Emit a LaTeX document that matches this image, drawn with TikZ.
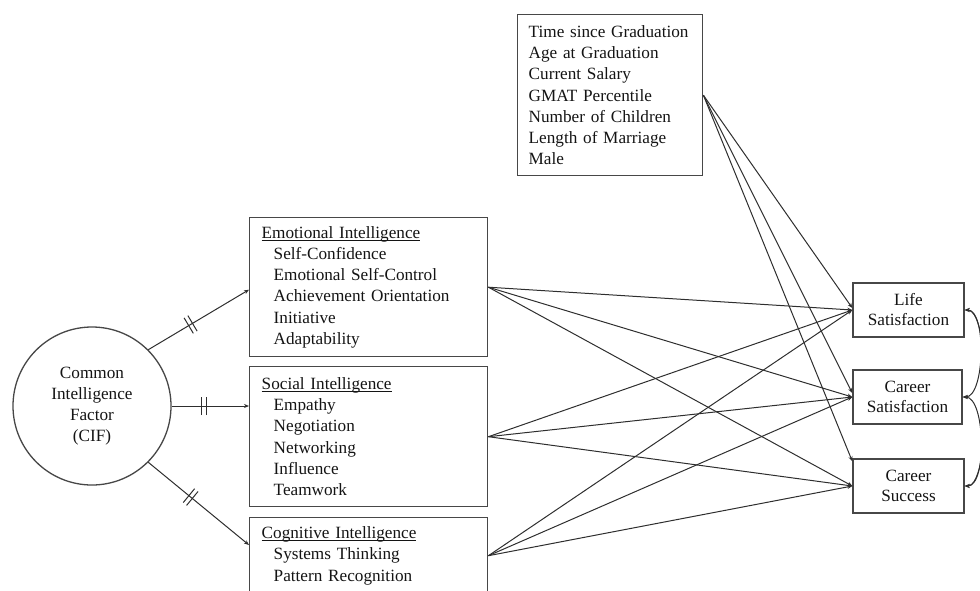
\documentclass[tikz,border=0pt]{standalone}
\usepackage{fontspec}
\setmainfont{Liberation Serif}
\usetikzlibrary{arrows.meta,calc,decorations.markings}
% heading underline drawn just under the baseline, line keeps its natural size
\newcommand{\headul}[1]{\underline{\smash{#1}}\vphantom{#1}}
\begin{document}
\begin{tikzpicture}[x=1pt,y=-1pt,
  font=\fontsize{17.2}{21.2}\selectfont,
  every node/.style={text=black!92},
  box/.style={draw=black!72, line width=1.4pt, rectangle, anchor=north west,
    inner ysep=0pt, align=left},
  outbox/.style={draw=black!72, line width=1.4pt, rectangle, minimum width=111pt,
    minimum height=54pt, inner sep=0pt, align=center,
    font=\fontsize{17.2}{20}\selectfont},
  link/.style={draw=black!82, line width=1pt, -{Stealth[length=5pt,width=4pt]}},
  twoway/.style={draw=black!82, line width=1pt,
    {Stealth[length=5pt,width=4pt]}-{Stealth[length=5pt,width=4pt]}},
  fixedpath/.style={postaction={decorate}, decoration={markings,
    mark=at position 0.42 with {\draw[arrows=-, draw=black!82, line width=1pt]
      (-2.2pt,-9pt) -- (-2.2pt,9pt) (2.2pt,-9pt) -- (2.2pt,9pt);}}},
]
\useasboundingbox (0,0) rectangle (980,590);
\clip (0,0) rectangle (980,590);

% latent factor
\node[circle, draw=black!72, line width=1.3pt, minimum size=158pt, inner sep=0pt,
  align=center] (cif) at (92,406) {Common\\Intelligence\\Factor\\(CIF)};

% competency clusters
\node[box, text width=214pt, inner xsep=12pt, minimum height=139pt] (emo) at (249,217)
  {\headul{Emotional Intelligence}\\
   \hspace*{12pt}Self-Confidence\\
   \hspace*{12pt}Emotional Self-Control\\
   \hspace*{12pt}Achievement Orientation\\
   \hspace*{12pt}Initiative\\
   \hspace*{12pt}Adaptability};
\node[box, text width=214pt, inner xsep=12pt, minimum height=140pt] (soc) at (249,366)
  {\headul{Social Intelligence}\\
   \hspace*{12pt}Empathy\\
   \hspace*{12pt}Negotiation\\
   \hspace*{12pt}Networking\\
   \hspace*{12pt}Influence\\
   \hspace*{12pt}Teamwork};
\node[box, text width=214pt, inner xsep=12pt, minimum height=76pt] (cog) at (249,517)
  {\headul{Cognitive Intelligence}\\
   \hspace*{12pt}Systems Thinking\\
   \hspace*{12pt}Pattern Recognition};

% control variables
\node[box, text width=163pt, inner xsep=11pt, minimum height=161pt] (demo) at (517,14)
  {Time since Graduation\\
   Age at Graduation\\
   Current Salary\\
   GMAT Percentile\\
   Number of Children\\
   Length of Marriage\\
   Male};

% outcomes
\node[outbox] (life) at (908.5,310) {Life\\Satisfaction};
\node[outbox, minimum width=109pt] (csat) at (907.5,397) {Career\\Satisfaction};
\node[outbox] (csucc) at (908.5,486) {Career\\Success};

% loadings of the common factor
\draw[link, fixedpath] (cif.45) -- ([yshift=-2.5pt]emo.west);
\draw[link, fixedpath] (cif.east) -- (cif.east -| soc.west);
\draw[link, fixedpath] (cif.-45) -- ($(cog.north west)+(0,28)$);

% structural paths
\foreach \s in {emo,soc,cog}
  \foreach \t in {life,csat,csucc}
    \draw[link] (\s.east) -- (\t.west);

\draw[link] (demo.east) -- ([yshift=2pt]life.west);
\draw[link] (demo.east) -- ([yshift=4pt]csat.west);
\draw[link] (demo.east) -- ($(csucc.north west)+(0,3)$);

% residual covariances
\draw[twoway] (life.east) to[out=0,in=0,looseness=0.65] (csat.east);
\draw[twoway] (csat.east) to[out=0,in=0,looseness=0.65] (csucc.east);
\draw[twoway] (life.east) to[out=0,in=0,looseness=0.4] (csucc.east);
\end{tikzpicture}
\end{document}
